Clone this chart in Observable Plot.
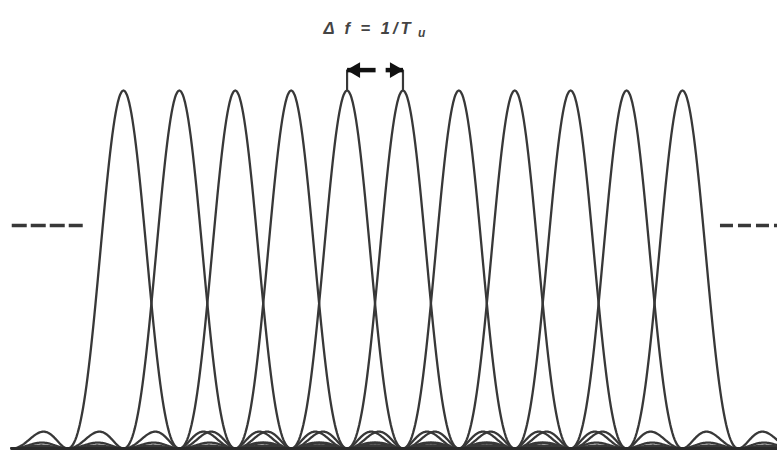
<!DOCTYPE html>
<html>
<head>
<meta charset="utf-8">
<script src="https://cdn.jsdelivr.net/npm/d3@7"></script>
<script src="https://cdn.jsdelivr.net/npm/@observablehq/plot@0.6"></script>
<style>
  html, body { margin: 0; padding: 0; background: #fff; }
</style>
</head>
<body>
<div id="chart"></div>
<script>
// Subcarrier indices (peak positions, in units of the subcarrier spacing Δf)
const subcarriers = [0, 1, 2, 3, 4, 5, 6, 7, 8, 9, 10];
const peakPower = 1;
// Visible frequency band (in units of Δf)
const bandStart = -2;
const bandEnd = 11.7;
const sampleStep = 0.02;
// Subcarriers marked with the spacing arrows
const markerCarriers = [4, 5];
const markerLevel = 1.057;
const arrowTails = [4.51, 4.69];
// "more subcarriers" dashes
const dashLevel = 0.623;
const dashLeft = [-1.99, -0.72];
const dashRight = [10.68, 11.7];
// Label
const labelMain = "Δ f = 1/T";
const labelSub = "u";
const labelPos = { x: 5.19, y: 1.173 };
const labelSubPos = { x: 5.27, y: 1.16 };

function sinc2(u) {
  if (Math.abs(u) < 1e-9) return 1;
  const s = Math.sin(Math.PI * u) / (Math.PI * u);
  return s * s;
}
const freqs = d3.range(bandStart, bandEnd + 1e-9, sampleStep);
const spectrum = subcarriers.flatMap(k => freqs.map(f => ({ k, f, p: peakPower * sinc2(f - k) })));

const ink = "#383838";
const chart = Plot.plot({
  width: 777,
  height: 454,
  margin: 0,
  style: { background: "#fff", overflow: "hidden" },
  x: { domain: [-2.2, 11.7], range: [0, 777], axis: null },
  y: { domain: [0, 1], range: [448, 90], axis: null },
  marks: [
    Plot.line(spectrum, { x: "f", y: "p", z: "k", stroke: ink, strokeWidth: 2.3, curve: "linear" }),
    Plot.ruleY([0], { x1: bandStart, x2: bandEnd, stroke: "#2a2a2a", strokeWidth: 2.8 }),
    Plot.ruleY([dashLevel], { x1: dashLeft[0], x2: dashLeft[1], stroke: ink, strokeWidth: 3.5, strokeDasharray: "15,4" }),
    Plot.ruleY([dashLevel], { x1: dashRight[0], x2: dashRight[1], stroke: ink, strokeWidth: 3.5, strokeDasharray: "13,5" }),
    Plot.ruleX(markerCarriers, { y1: peakPower, y2: markerLevel, stroke: ink, strokeWidth: 2.2 }),
    Plot.link(markerCarriers, { x1: (d, i) => arrowTails[i], x2: d => d, y1: markerLevel, y2: markerLevel, stroke: "#111", strokeWidth: 4.5 }),
    Plot.dot([markerCarriers[0]], { x: d => d, y: markerLevel, symbol: "triangle", r: 5.8, fill: "#111", rotate: -90, dx: 8.5 }),
    Plot.dot([markerCarriers[1]], { x: d => d, y: markerLevel, symbol: "triangle", r: 5.8, fill: "#111", rotate: 90, dx: -8.5 }),
    Plot.text([labelMain], { x: labelPos.x, y: labelPos.y, text: d => d, textAnchor: "end", fontSize: 16.5, fontWeight: "bold", fontStyle: "italic", fill: "#444", fontFamily: "Liberation Sans, Arial, sans-serif" }),
    Plot.text([labelSub], { x: labelSubPos.x, y: labelSubPos.y, text: d => d, textAnchor: "start", fontSize: 12, fontWeight: "bold", fontStyle: "italic", fill: "#444", fontFamily: "Liberation Sans, Arial, sans-serif" })
  ]
});
chart.querySelectorAll("text").forEach(t => { if (t.textContent.startsWith("Δ")) t.setAttribute("letter-spacing", "3"); });
document.getElementById("chart").appendChild(chart);
</script>
</body>
</html>
